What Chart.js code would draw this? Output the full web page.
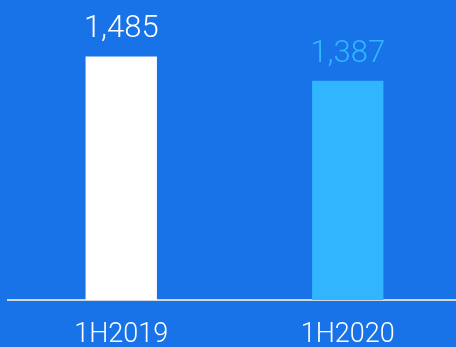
<!DOCTYPE html>
<html>
<head>
  <meta charset="UTF-8" />
  <title>1H2019 vs 1H2020</title>
  <script src="https://cdn.jsdelivr.net/npm/chart.js@4"></script>
  <style>
    html, body {
      margin: 0;
      padding: 0;
      overflow: hidden;
      background-color: #1872e8;
    }
    #wrap {
      width: 461px;
      height: 371px;
    }
  </style>
</head>
<body>
  <div id="wrap"><canvas id="halfChart"></canvas></div>

  <script>
    const periods = ['1H2019', '1H2020'];
    const values = [1485, 1387];
    const barColors = ['#ffffff', '#31b5ff'];
    const labelColors = ['#ffffff', '#30b8ff'];

    const fontFamily = "Roboto, 'Noto Sans', sans-serif";

    // value labels above each bar
    const valueLabels = {
      id: 'valueLabels',
      afterDatasetsDraw(chart) {
        const ctx = chart.ctx;
        const meta = chart.getDatasetMeta(0);
        ctx.save();
        ctx.font = `300 31px ${fontFamily}`;
        ctx.textAlign = 'center';
        ctx.textBaseline = 'alphabetic';
        meta.data.forEach((bar, i) => {
          ctx.fillStyle = labelColors[i];
          ctx.fillText(values[i].toLocaleString('en-US'), bar.x, bar.y - 19);
        });
        ctx.restore();
      }
    };

    const ctx = document.getElementById('halfChart').getContext('2d');
    new Chart(ctx, {
      type: 'bar',
      data: {
        labels: periods,
        datasets: [{
          data: values,
          backgroundColor: barColors,
          borderWidth: 0,
          barPercentage: 0.63,
          categoryPercentage: 0.5
        }]
      },
      options: {
        responsive: true,
        maintainAspectRatio: false,
        animation: false,
        layout: {
          padding: { left: 8, right: 0, top: 28, bottom: 0 }
        },
        plugins: {
          legend: { display: false },
          tooltip: { enabled: false }
        },
        scales: {
          x: {
            grid: { display: false, drawTicks: false },
            border: { display: true, color: '#d3d7de', width: 2 },
            ticks: {
              color: '#ffffff',
              padding: 22,
              font: { family: fontFamily, size: 27, weight: 300, lineHeight: 1 }
            }
          },
          y: {
            display: false,
            min: 500,
            max: 1600
          }
        }
      },
      plugins: [valueLabels]
    });
  </script>
</body>
</html>
